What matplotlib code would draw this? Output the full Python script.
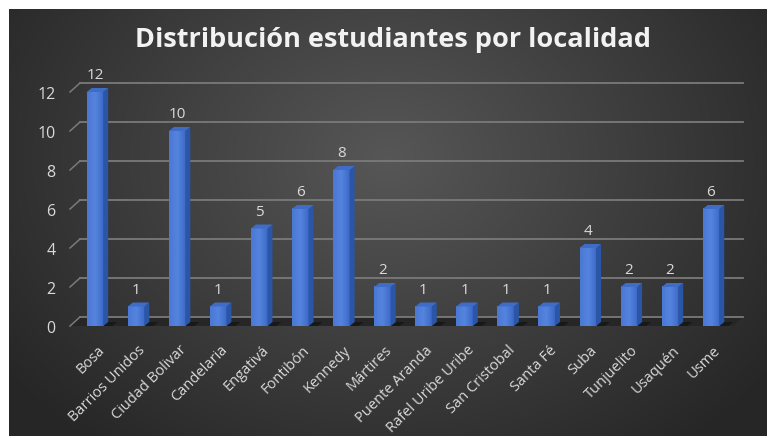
import numpy as np
import matplotlib.pyplot as plt
from matplotlib.patches import Polygon
from matplotlib.colors import LinearSegmentedColormap

plt.rcParams['font.family'] = ['Open Sans', 'DejaVu Sans']

localidades = ['Bosa', 'Barrios Unidos', 'Ciudad Bolivar', 'Candelaria', 'Engativá',
               'Fontibón', 'Kennedy', 'Mártires', 'Puente Aranda', 'Rafel Uribe Uribe',
               'San Cristobal', 'Santa Fé', 'Suba', 'Tunjuelito', 'Usaquén', 'Usme']
estudiantes = [12, 1, 10, 1, 5, 6, 8, 2, 1, 1, 1, 1, 4, 2, 2, 6]
yticks = [0, 2, 4, 6, 8, 10, 12]

W, H = 768, 439
fig = plt.figure(figsize=(W / 100, H / 100), dpi=100, facecolor='white')

# dark radial background panel
bg = fig.add_axes([9 / W, 1 - 437 / H, 758 / W, 427 / H])
bg.axis('off')
yy, xx = np.mgrid[0:427, 0:758]
r = np.sqrt(((xx - 379) / 420.0) ** 2 + ((yy - 150) / 330.0) ** 2)
shade = np.clip(0.34 - 0.17 * r, 0.15, 0.34)
img = np.dstack([shade, shade, shade])
bg.imshow(img, aspect='auto', extent=[0, 1, 0, 1], interpolation='bilinear')
bg.set_xlim(0, 1)
bg.set_ylim(0, 1)

fig.text(393 / W, 1 - 40 / H, 'Distribución estudiantes por localidad',
         color='#f2f2f2', fontsize=19.5, fontweight='bold', ha='center', va='center')

# main plot area, mapped in pixels: x=i -> 97 + 41.07 i, y=v -> 327 - 19.5 v
px_x, sx = 97.0, 41.07
px_y, sy = 327.0, 19.5
xlo, xhi = -1.0, 15.9
ylo, yhi = -0.6, 13.6
left = px_x + xlo * sx
right = px_x + xhi * sx
bottom = px_y - ylo * sy
top = px_y - yhi * sy
ax = fig.add_axes([left / W, 1 - bottom / H, (right - left) / W, (bottom - top) / H])
ax.set_xlim(xlo, xhi)
ax.set_ylim(ylo, yhi)
ax.patch.set_alpha(0)
for s in ax.spines.values():
    s.set_visible(False)

# back wall offset and bar depth in data units
wdx, wdy = 10 / sx, 9 / sy
bdx, bdy = 5 / sx, 4 / sy
x_front0 = (70 - px_x) / sx
x_back1 = (743 - px_x) / sx

grid_col = '#7a7a7a'
# floor
ax.add_patch(Polygon([(x_front0, 0), (x_back1 - wdx, 0), (x_back1, wdy), (x_front0 + wdx, wdy)],
                     closed=True, facecolor='#262626', edgecolor='none', zorder=1))
for v in yticks:
    ax.plot([x_front0 + wdx, x_back1], [v + wdy, v + wdy], color=grid_col, lw=1.3, zorder=1.5)
    ax.plot([x_front0, x_front0 + wdx], [v, v + wdy], color=grid_col, lw=1.1, zorder=1.5)
    ax.text(x_front0 - 0.35, v - 0.1, str(v), color='#d9d9d9', fontsize=11.5,
            ha='right', va='center')

cmap = LinearSegmentedColormap.from_list('barface', ['#4a78d4', '#5584df', '#3c69c6'])
grad = np.linspace(0, 1, 32).reshape(1, -1)
bw = 16.5 / sx
for i, v in enumerate(estudiantes):
    x0 = i - bw / 2 - 0.05
    # shadow on floor
    ax.add_patch(Polygon([(x0 + bw, 0), (x0 + bw + 0.22, 0), (x0 + bw + 0.22 + bdx, bdy),
                          (x0 + bw + bdx, bdy)], closed=True, facecolor='#151515',
                         edgecolor='none', alpha=0.8, zorder=2))
    # front face with a soft horizontal gradient
    ax.imshow(grad, cmap=cmap, aspect='auto', extent=[x0, x0 + bw, 0, v],
              interpolation='bilinear', zorder=3)
    ax.add_patch(Polygon([(x0 + bw, 0), (x0 + bw + bdx, bdy), (x0 + bw + bdx, v + bdy),
                          (x0 + bw, v)], closed=True, facecolor='#2b55a6',
                         edgecolor='none', zorder=3))
    ax.add_patch(Polygon([(x0, v), (x0 + bw, v), (x0 + bw + bdx, v + bdy), (x0 + bdx, v + bdy)],
                         closed=True, facecolor='#3f6cc6', edgecolor='none', zorder=3))
    ax.text(i - 0.05, v + 0.5, str(v), color='#d9d9d9', fontsize=11, ha='center',
            va='bottom', zorder=4)

ax.set_xlim(xlo, xhi)
ax.set_ylim(ylo, yhi)
ax.set_yticks([])
ax.set_xticks(range(len(localidades)))
ax.set_xticklabels(localidades, rotation=45, ha='right', rotation_mode='anchor',
                   color='#d9d9d9', fontsize=10.5)
ax.tick_params(axis='x', length=0, pad=3)

fig.savefig('out.png', dpi=100, facecolor='white')
